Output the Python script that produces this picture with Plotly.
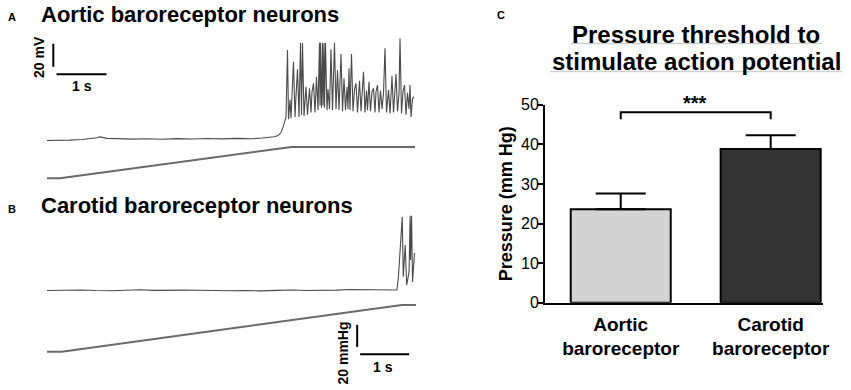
import plotly.graph_objects as go

W, H = 851, 390
FONT = "Liberation Sans, Arial, sans-serif"

# ---------------- Panel A: aortic baroreceptor neuron ----------------
a_time = [0.0, 0.2, 0.45, 0.7, 0.9, 1.0, 1.06, 1.12, 1.2, 1.4, 1.7, 2.0, 2.3, 2.6, 2.9,
          3.2, 3.5, 3.8, 4.1, 4.3, 4.45, 4.55, 4.62, 4.68, 4.72, 4.75, 4.78,
          4.81, 4.83, 4.86, 4.88, 4.93, 4.96, 4.98, 5.01, 5.04, 5.07, 5.09, 5.11, 5.14,
          5.16, 5.18, 5.21, 5.25, 5.28, 5.30, 5.33, 5.36, 5.39, 5.42, 5.45, 5.46, 5.47,
          5.49, 5.51, 5.52, 5.54, 5.55, 5.57, 5.60, 5.62, 5.65, 5.68, 5.71, 5.75, 5.78,
          5.81, 5.84, 5.88, 5.91, 5.94, 5.97, 6.00, 6.02, 6.04, 6.06, 6.09, 6.12, 6.15,
          6.18, 6.21, 6.25, 6.28, 6.33, 6.36, 6.39, 6.41, 6.44, 6.47, 6.50, 6.53, 6.56,
          6.58, 6.61, 6.64, 6.67, 6.70, 6.73, 6.76, 6.79, 6.83, 6.86, 6.90, 6.93, 6.98,
          7.01, 7.04, 7.06, 7.09, 7.12, 7.15, 7.18, 7.21, 7.24, 7.26, 7.28, 7.31, 7.34]
a_mv = [-60.4, -60.5, -60.1, -59.6, -58.9, -58.0, -57.3, -57.8, -58.6, -58.8, -59.2, -58.9,
        -59.3, -58.8, -59.1, -58.7, -59.0, -58.6, -58.9, -58.3, -57.9, -57.2, -56.1, -53.5,
        -49.0, -44.5, -40.0,
        18.3, -42, -25, -41, 8.1, -40, -22, 1.5, -40, 24.6, -38, 24.3, -39,
        -20, -13.7, -38, -15.0, -36, -18, -10.7, -36, -5.0, -34, 24.6, -30, 24.6,
        -32, 24.6, -30, 24.3, -32, 24.3, -34, -16, -33, 18.9, -34, 24.6, -33,
        0.9, -34, 14.8, -35, -6.3, -34, -14, -33, 2.3, -34, 14.8, -35, -16,
        -10.7, -36, -8.4, -35, -0.6, -36, -17, -34, -9.3, -35, -18, -15.0, -36,
        -18, -12.2, -36, -17, -33, -19, 19.7, -36, -16.5, -37, -4.3, -36, -2.6,
        -35, -20, 28.4, -37, -18, -12.2, -38, -19, -33, -12.2, -40, -24, -22.3]
a_press_time = [0.0, 0.26, 4.89, 7.36]
a_press_mmhg = [0, 0, 28.5, 28.5]

# ---------------- Panel B: carotid baroreceptor neuron ----------------
b_time = [0.0, 0.4, 0.7, 1.0, 1.3, 1.6, 1.9, 2.2, 2.5, 2.8, 3.1, 3.4, 3.7, 4.0, 4.35,
          4.7, 5.0, 5.3, 5.6, 5.9, 6.2, 6.5, 6.8, 7.0, 7.14,
          7.17, 7.25, 7.27, 7.31, 7.34, 7.39, 7.41, 7.42, 7.44, 7.46, 7.50]
b_mv = [-60.4, -60.1, -60.0, -60.5, -60.7, -60.2, -59.8, -60.3, -60.5, -60.1, -60.2,
        -60.6, -60.7, -60.4, -60.8, -60.3, -60.0, -60.4, -60.5, -60.1, -59.6, -59.9,
        -59.8, -59.9, -60.0,
        -49.8, 3.7, -48.4, -20.9, -55.7, -44.1, 4.6, -33.9, 4.6, -53.0, -27.8]
b_press_time = [0.0, 0.30, 7.24, 7.53]
b_press_mmhg = [0, 0, 42.5, 42.5]

# Scale bars
scale_mv = 20
scale_mmhg = 20
scale_s = 1

# ---------------- Panel C: pressure threshold ----------------
groups = ["Aortic<br>baroreceptor", "Carotid<br>baroreceptor"]
threshold_mean = [23.6, 38.8]
threshold_sem = [4.0, 3.5]
bar_colors = ["#d3d3d3", "#333333"]
y_ticks = [0, 10, 20, 30, 40, 50]
sig_label = "***"


# ---------- helpers for layout in pixels ----------
def dx(p0, p1):
    return [p0 / W, p1 / W]


def dy(top, bot):
    return [1 - bot / H, 1 - top / H]


def px(p):
    return p / W


def py(p):
    return 1 - p / H


def lin_range(px_top, px_bot, px_ref, val_ref, px_per_unit):
    return [val_ref + (px_ref - px_bot) / px_per_unit,
            val_ref + (px_ref - px_top) / px_per_unit]


trace_color = "#4a4a4a"
base_color = "#5a5a5a"
ramp_color = "#6a6a6a"

fig = go.Figure()
fig.add_trace(go.Scatter(x=a_time, y=a_mv, mode="lines", xaxis="x", yaxis="y",
                         line=dict(color=trace_color, width=1.1), hoverinfo="skip"))
fig.add_trace(go.Scatter(x=a_press_time, y=a_press_mmhg, mode="lines", xaxis="x2", yaxis="y2",
                         line=dict(color=ramp_color, width=2), hoverinfo="skip"))
fig.add_trace(go.Scatter(x=b_time, y=b_mv, mode="lines", xaxis="x3", yaxis="y3",
                         line=dict(color=trace_color, width=1.1), hoverinfo="skip"))
fig.add_trace(go.Scatter(x=b_press_time, y=b_press_mmhg, mode="lines", xaxis="x4", yaxis="y4",
                         line=dict(color=ramp_color, width=2), hoverinfo="skip"))

fig.add_trace(go.Bar(
    x=groups, y=threshold_mean, xaxis="x5", yaxis="y5", width=0.667,
    marker=dict(color=bar_colors, line=dict(color="black", width=2)),
    error_y=dict(type="data", array=threshold_sem, arrayminus=[0, 0], symmetric=False,
                 color="black", thickness=2, width=25),
    hoverinfo="skip"))

hidden = dict(visible=False, showgrid=False, zeroline=False, fixedrange=True, automargin=False)

layout = dict(
    template="none",
    width=W, height=H, autosize=False, margin=dict(l=0, r=0, t=0, b=0, pad=0, autoexpand=False),
    paper_bgcolor="white", plot_bgcolor="rgba(0,0,0,0)",
    showlegend=False, font=dict(family=FONT, color="black"),
    xaxis=dict(domain=dx(47, 416), range=[0, 369 / 50], anchor="y", **hidden),
    yaxis=dict(domain=dy(30, 145), range=lin_range(30, 145, 140, -60, 1.15), anchor="x", **hidden),
    xaxis2=dict(domain=dx(47, 416), range=[0, 369 / 50], anchor="y2", **hidden),
    yaxis2=dict(domain=dy(145, 185), range=lin_range(145, 185, 178.3, 0, 1.1), anchor="x2", **hidden),
    xaxis3=dict(domain=dx(47, 416), range=[0, 369 / 49], anchor="y3", **hidden),
    yaxis3=dict(domain=dy(200, 298), range=lin_range(200, 298, 290, -60, 1.15), anchor="x3", **hidden),
    xaxis4=dict(domain=dx(47, 416), range=[0, 369 / 49], anchor="y4", **hidden),
    yaxis4=dict(domain=dy(298, 390), range=lin_range(298, 390, 351.7, 0, 1.1), anchor="x4", **hidden),
    xaxis5=dict(domain=dx(545, 823), range=[-0.505, 1.349], anchor="y5", type="category",
                showline=True, linewidth=2, linecolor="black", ticks="", showgrid=False,
                zeroline=False, fixedrange=True, automargin=False, ticklabelstandoff=3,
                tickfont=dict(family=FONT, size=19, color="black", weight="bold")),
    yaxis5=dict(domain=dy(104.7, 302.7), range=[0, 50], anchor="x5", tickvals=y_ticks,
                showline=True, linewidth=2, linecolor="black", ticks="outside", ticklen=6,
                tickwidth=2, tickcolor="black", showgrid=False, zeroline=False, fixedrange=True,
                automargin=False, ticklabelstandoff=-5,
                tickfont=dict(family=FONT, size=16, color="black"),
                title=dict(text="Pressure (mm Hg)", standoff=4,
                           font=dict(family=FONT, size=18, color="black", weight="bold"))),
)
fig.update_layout(**layout)

shapes = []
# Panel A scale bars (data coordinates)
shapes.append(dict(type="line", xref="x", yref="y", x0=0.126, x1=0.126, y0=3.7, y1=3.7 + scale_mv,
                   line=dict(color="black", width=2)))
shapes.append(dict(type="line", xref="x", yref="y", x0=0.19, x1=0.19 + scale_s, y0=-2.9, y1=-2.9,
                   line=dict(color="black", width=2)))
# Panel B scale bars
shapes.append(dict(type="line", xref="x4", yref="y4", x0=6.33, x1=6.33, y0=4.4, y1=4.4 + scale_mmhg,
                   line=dict(color="black", width=2)))
shapes.append(dict(type="line", xref="x4", yref="y4", x0=6.39, x1=6.39 + scale_s, y0=-2.4, y1=-2.4,
                   line=dict(color="black", width=2)))
# Significance bracket
shapes.append(dict(type="path", xref="x5", yref="y5",
                   path="M 0,46.3 L 0,48.1 L 1,48.1 L 1,46.3",
                   line=dict(color="black", width=2)))
# faint gray rules under the title lines
shapes.append(dict(type="line", xref="paper", yref="paper", x0=px(571), x1=px(822),
                   y0=py(43.5), y1=py(43.5), line=dict(color="#cfcfcf", width=1.5)))
shapes.append(dict(type="line", xref="paper", yref="paper", x0=px(550), x1=px(842),
                   y0=py(71.5), y1=py(71.5), line=dict(color="#cfcfcf", width=1.5)))
fig.update_layout(shapes=shapes)


def ann(text, x, y, size, bold=True, xanchor="center", yanchor="middle", angle=0):
    return dict(text=text, x=px(x), y=py(y), xref="paper", yref="paper", showarrow=False,
                xanchor=xanchor, yanchor=yanchor, textangle=angle,
                font=dict(family=FONT, size=size, color="black", weight="bold" if bold else "normal"))


annotations = [
    ann("A", 11.7, 17, 11),
    ann("Aortic baroreceptor neurons", 39, 14.5, 22, xanchor="left"),
    ann("B", 11.7, 209, 11),
    ann("Carotid baroreceptor neurons", 39, 205, 22, xanchor="left"),
    ann("C", 500.5, 15, 11),
    ann("1 s", 81.7, 85.7, 14),
    ann("20 mV", 38.3, 56.7, 14, angle=-90),
    ann("1 s", 383, 366.7, 14),
    ann("20 mmHg", 342.5, 353, 14, angle=-90),
    ann("Pressure threshold to", 696, 34, 24),
    ann("stimulate action potential", 696, 62, 24),
    ann(sig_label, 695, 103, 20),
]
fig.update_layout(annotations=annotations)

fig.write_html("out.html", config={"displayModeBar": False, "staticPlot": True},
               post_script="document.body.style.margin='0';document.body.style.overflow='hidden';")
